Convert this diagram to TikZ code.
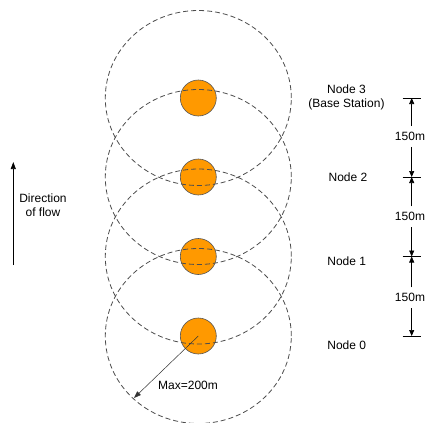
\documentclass[tikz,border=0pt]{standalone}
\usepackage{fontspec}
\setmainfont{Liberation Sans}
\usetikzlibrary{arrows.meta}
\definecolor{diskfill}{HTML}{FF9900}
\definecolor{diskline}{HTML}{555555}
\definecolor{rangeline}{HTML}{4D4D4D}
\tikzset{
  disk/.style={circle, minimum size=36bp, inner sep=0pt, fill=diskfill, draw=diskline, line width=0.6bp},
  rangering/.style={draw=rangeline, line width=0.8bp, dash pattern=on 5bp off 3bp},
  lbl/.style={font=\fontsize{12bp}{14bp}\selectfont, inner sep=0pt, align=center},
  dimlbl/.style={font=\fontsize{12bp}{14bp}\selectfont, inner xsep=0pt, inner ysep=6bp},
  dimarrow/.style={draw=black, line width=0.6bp, -{Triangle[length=6bp,width=5bp]}},
  tickline/.style={draw=black, line width=0.6bp},
  maxarrow/.style={draw=black!80, line width=0.5bp, -{Triangle[length=7bp,width=5bp]}},
  flowarrow/.style={draw=black, line width=0.7bp, -{Triangle[length=7bp,width=5bp]}}
}
\begin{document}
\begin{tikzpicture}[x=1bp,y=-1bp]
\useasboundingbox[fill=white] (0,0) rectangle (426,423);
% sensor nodes
\node[disk] (n3) at (198.3,98) {};
\node[disk] (n2) at (198.3,177) {};
\node[disk] (n1) at (198.3,256.5) {};
\node[disk] (n0) at (198.3,336) {};
% radio ranges
\foreach \n in {n3,n2,n1,n0}{
  \draw[rangering] (\n) ellipse [x radius=93bp, y radius=87.5bp];
}
% max range arrow
\coordinate (maxend) at (134,398);
\draw[maxarrow] (n0.center) -- (maxend);
\node[lbl] (maxlbl) at (188,385) {Max=200m};
% node labels
\node[lbl] (l3) at (346.5,97) {Node 3\\(Base Station)};
\node[lbl] (l2) at (348,177) {Node 2};
\node[lbl] (l1) at (346.7,261.7) {Node 1};
\node[lbl] (l0) at (346.7,345) {Node 0};
% dimension ticks
\foreach \t/\y in {t3/98,t2/177,t1/256.5,t0/336}{
  \coordinate (\t) at (411.7,\y);
  \draw[tickline] ([xshift=-9bp]\t) -- ([xshift=9bp]\t);
}
\node[dimlbl] (d32) at (410,136.5) {150m};
\node[dimlbl] (d21) at (410,216.7) {150m};
\node[dimlbl] (d10) at (410,297.7) {150m};
\draw[dimarrow] (d32.north -| t3) -- (t3);
\draw[dimarrow] (d32.south -| t3) -- (t2);
\draw[dimarrow] (d21.north -| t2) -- (t2);
\draw[dimarrow] (d21.south -| t2) -- (t1);
\draw[dimarrow] (d10.north -| t1) -- (t1);
\draw[dimarrow] (d10.south -| t1) -- (t0);
% direction of flow
\coordinate (flowtail) at (13.3,265);
\coordinate (flowtip) at (13.3,162);
\draw[flowarrow] (flowtail) -- (flowtip);
\node[lbl] (flowlbl) at (43,205) {Direction\\of flow};
\end{tikzpicture}
\end{document}
